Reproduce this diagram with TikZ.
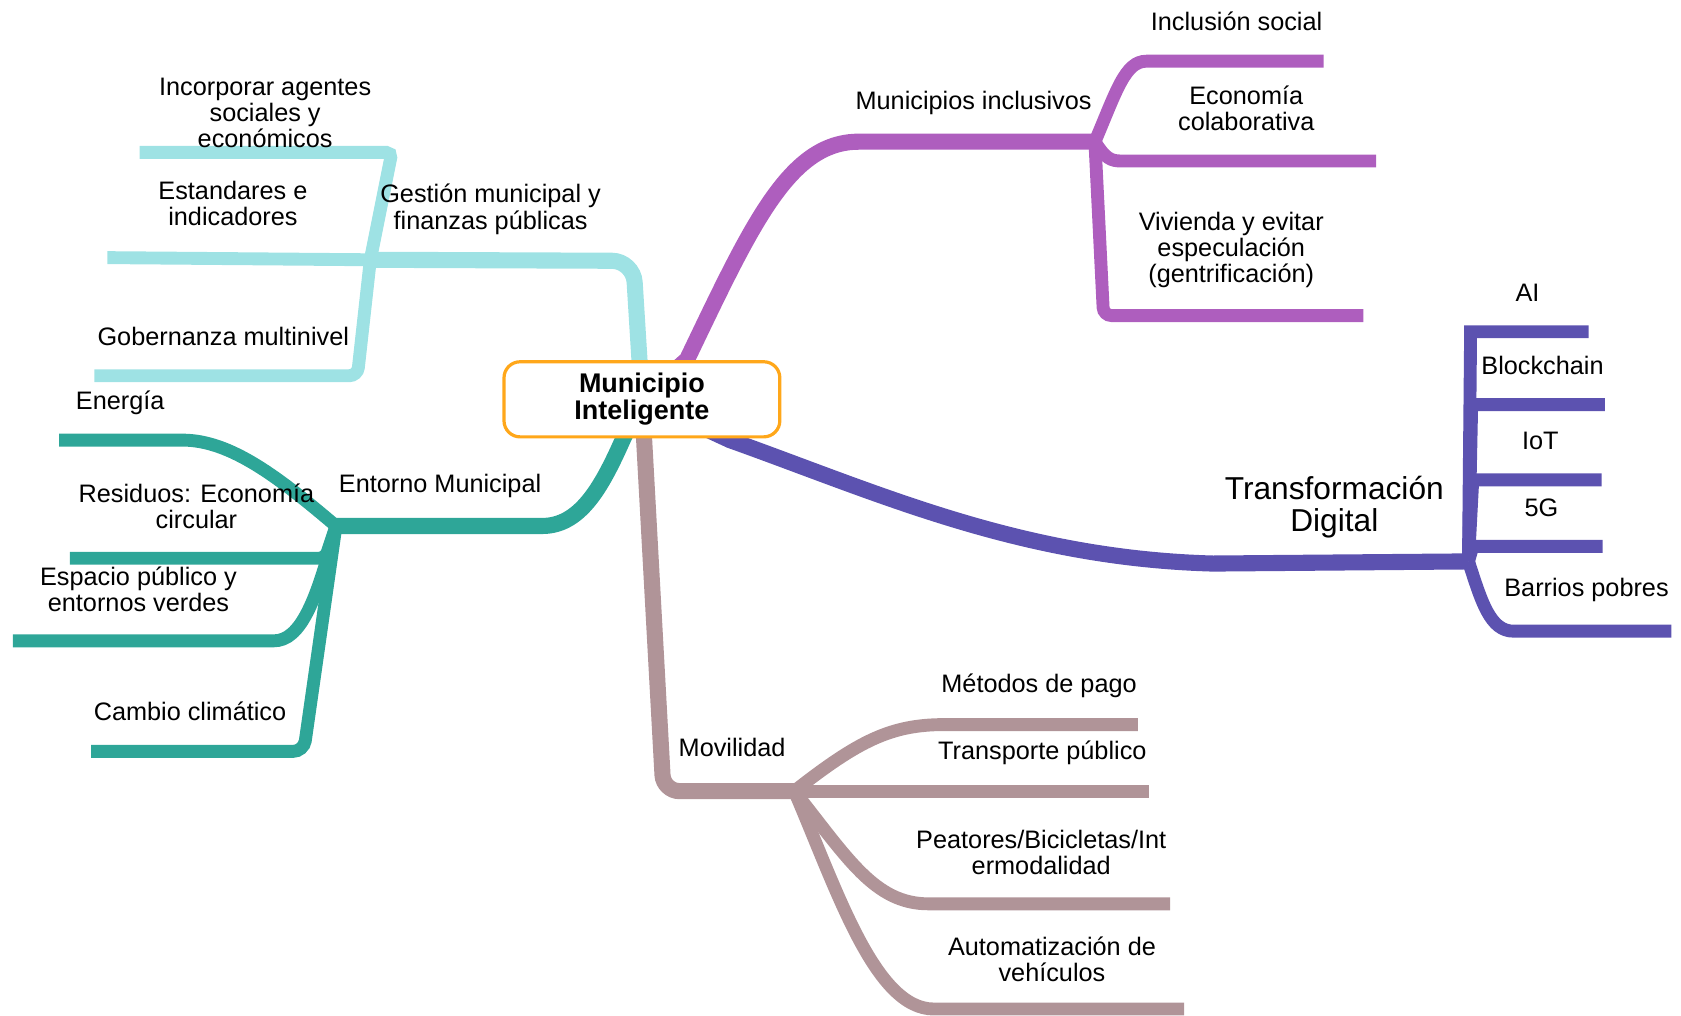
\documentclass[tikz,border=0pt]{standalone}
\usepackage{fontspec}
\setmainfont{Liberation Sans}
\usepackage{tikz}
\usetikzlibrary{backgrounds}

\definecolor{gestioncol}{HTML}{9EE2E4}
\definecolor{entornocol}{HTML}{2EA698}
\definecolor{inclusivocol}{HTML}{AE5EBE}
\definecolor{digitalcol}{HTML}{5C52B0}
\definecolor{movilidadcol}{HTML}{B09498}
\definecolor{centrocol}{HTML}{FFA71A}

\begin{document}
\begin{tikzpicture}[x=0.02cm, y=-0.02cm,
  lbl/.style={font=\fontsize{13.4}{13.8}\selectfont, align=center, inner sep=0pt},
  trunk/.style={line width=0.3cm},
  twig/.style={line width=0.24cm}]
\useasboundingbox (0,0) rectangle (1566,946);

\node[draw = centrocol, fill = white, line width = 1.7pt, rounded corners = 0.3cm, minimum width = 5.14cm, minimum height = 1.4cm, align = center, font = \bfseries\fontsize{14.3}{14.3}\selectfont] (0) at (598,372) {Municipio\\Inteligente};

% hubs
\coordinate (h1) at (345,242);
\coordinate (h2) at (313,490);
\coordinate (h3) at (1020,132);
\coordinate (h4) at (1368,523);
\coordinate (h5) at (740,737);

% free ends
\coordinate (e1) at (130,142);
\coordinate (e2) at (100,240);
\coordinate (e3) at (88,350);
\coordinate (e4) at (55,410);
\coordinate (e5) at (65,520);
\coordinate (e6) at (12,597);
\coordinate (e7) at (85,700);
\coordinate (e8) at (1233,57);
\coordinate (e9) at (1282,150);
\coordinate (e10) at (1270,294);
\coordinate (e11) at (1480,309);
\coordinate (e12) at (1495,377);
\coordinate (e13) at (1492,447);
\coordinate (e14) at (1493,509);
\coordinate (e15) at (1557,588);
\coordinate (e16) at (1060,675);
\coordinate (e17) at (1070,737);
\coordinate (e18) at (1090,842);
\coordinate (e19) at (1103,940);

% labels
\node[lbl] (1) at (457,195) {Gestión municipal y\\finanzas públicas};
\node[lbl] (2) at (247,105) {Incorporar agentes\\sociales y\\económicos};
\node[lbl] (3) at (217,190) {Estandares e\\indicadores};
\node[lbl] (4) at (208,313) {Gobernanza multinivel};
\node[lbl] (5) at (410,453) {Entorno Municipal};
\node[lbl] (6) at (112,375) {Energía};
\node[lbl] (7) at (183,472) {Residuos: Economía\\circular};
\node[lbl] (8) at (129,549) {Espacio público y\\entornos verdes};
\node[lbl] (9) at (177,663) {Cambio climático};
\node[lbl] (10) at (907,96) {Municipios inclusivos};
\node[lbl] (11) at (1152,20) {Inclusión social};
\node[lbl] (12) at (1161,101) {Economía\\colaborativa};
\node[lbl] (13) at (1147,233) {Vivienda y evitar\\especulación\\(gentrificación)};
\node[lbl, font = \fontsize{16.8}{17}\selectfont] (14) at (1243,472) {Transformación\\Digital};
\node[lbl] (15) at (1423,273) {AI};
\node[lbl] (16) at (1437,340) {Blockchain};
\node[lbl] (17) at (1435,411) {IoT};
\node[lbl] (18) at (1436,473) {5G};
\node[lbl] (19) at (1478,550) {Barrios pobres};
\node[lbl] (20) at (682,696) {Movilidad};
\node[lbl] (21) at (968,639) {Métodos de pago};
\node[lbl] (22) at (971,701) {Transporte público};
\node[lbl] (23) at (970,794) {Peatores/Bicicletas/Int\\ermodalidad};
\node[lbl] (24) at (980,894) {Automatización de\\vehículos};

\begin{pgfonlayer}{background}
% gestion
\draw[gestioncol, trunk, rounded corners = 0.4cm] (0.center) -- (590,243) -- (h1);
\draw[gestioncol, twig, rounded corners = 0.1cm] (h1) -- (365,142) -- (e1);
\draw[gestioncol, twig] (h1) -- (e2);
\draw[gestioncol, twig, rounded corners = 0.15cm] (h1) -- (333,350) -- (e3);
% entorno
\draw[entornocol, trunk] (0.center) -- (580,410) .. controls (560,455) and (540,490) .. (505,490) -- (h2);
\draw[entornocol, twig] (h2) .. controls (260,445) and (215,410) .. (170,410) -- (e4);
\draw[entornocol, twig, rounded corners = 0.1cm] (h2) -- (303,520) -- (e5);
\draw[entornocol, twig] (h2) .. controls (295,560) and (280,597) .. (255,597) -- (e6);
\draw[entornocol, twig, rounded corners = 0.2cm] (h2) -- (283,700) -- (e7);
% inclusivos
\draw[inclusivocol, trunk] (0.center) -- (640,335) .. controls (700,210) and (735,132) .. (800,132) -- (h3);
\draw[inclusivocol, twig] (h3) .. controls (1040,85) and (1048,57) .. (1068,57) -- (e8);
\draw[inclusivocol, twig] (h3) .. controls (1030,148) and (1035,150) .. (1045,150) -- (e9);
\draw[inclusivocol, twig, rounded corners = 0.15cm] (h3) -- (1028,294) -- (e10);
% digital
\draw[digitalcol, trunk] (0.center) -- (680,410) .. controls (820,460) and (950,520) .. (1130,525) -- (h4);
\draw[digitalcol, twig] (h4) -- (1370,309) -- (e11);
\draw[digitalcol, twig] (h4) -- (1371,377) -- (e12);
\draw[digitalcol, twig] (h4) -- (1372,447) -- (e13);
\draw[digitalcol, twig] (h4) -- (1372,509) -- (e14);
\draw[digitalcol, twig] (h4) .. controls (1380,560) and (1388,588) .. (1410,588) -- (e15);
% movilidad
\draw[movilidadcol, trunk, rounded corners = 0.3cm] (0.center) -- (618,737) -- (h5);
\draw[movilidadcol, twig] (h5) .. controls (800,690) and (830,675) .. (880,675) -- (e16);
\draw[movilidadcol, twig] (h5) -- (e17);
\draw[movilidadcol, twig] (h5) .. controls (790,800) and (815,842) .. (865,842) -- (e18);
\draw[movilidadcol, twig] (h5) .. controls (780,830) and (815,940) .. (870,940) -- (e19);
\end{pgfonlayer}
\end{tikzpicture}
\end{document}
